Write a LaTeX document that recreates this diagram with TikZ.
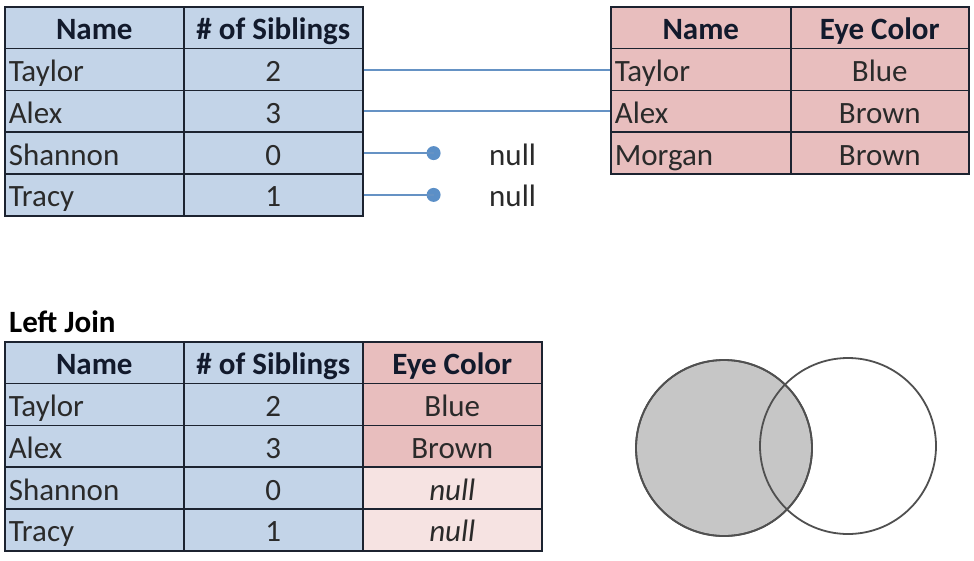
\documentclass[tikz,border=0pt]{standalone}
\usepackage{fontspec}
\setmainfont{Carlito}
\newcommand\cellfont{\fontsize{31}{36}\selectfont}
\definecolor{bluec}{HTML}{C3D4E8}
\definecolor{pinkc}{HTML}{E8BEBE}
\definecolor{paleP}{HTML}{F6E3E2}
\definecolor{bordc}{HTML}{1C2330}
\definecolor{txtc}{HTML}{2A2A2A}
\definecolor{hdrc}{HTML}{121A2C}
\definecolor{connc}{HTML}{6592C4}
\definecolor{dotc}{HTML}{5B8FC7}
\definecolor{vennfill}{HTML}{C6C6C6}
\definecolor{vennline}{HTML}{505050}
\tikzset{
  cell/.style={draw=bordc, line width=1.6pt, minimum height=41.8pt, inner sep=0pt,
    text height=24pt, text depth=0pt,
    anchor=north west, font=\cellfont, text=txtc},
  ccell/.style={cell, minimum width=#1},
  lcell/.style={cell, text width=#1, inner xsep=4pt, align=left},
  hdr/.style={font=\cellfont\bfseries, text=hdrc},
  bluecell/.style={fill=bluec},
  pinkcell/.style={fill=pinkc},
  palecell/.style={fill=paleP},
  conn/.style={draw=connc, line width=2pt},
  dotnode/.style={circle, fill=dotc, minimum size=14pt, inner sep=0pt},
  plain/.style={font=\cellfont, text=txtc, inner sep=0pt, text height=24pt, text depth=0pt},
  venn/.style={circle, draw=vennline, line width=1.8pt, minimum size=176pt, inner sep=0pt}
}
\begin{document}
\begin{tikzpicture}[x=1pt,y=-1pt]
\useasboundingbox (0,0) rectangle (974,560);
% top-left table
\node[ccell=179pt, bluecell, hdr] (a0n) at (4,6) {Name};
\node[ccell=179pt, bluecell, hdr] (a0s) at (183,6) {\# of Siblings};
\node[lcell=171pt, bluecell] (a1n) at (4,47.8) {Taylor};
\node[ccell=179pt, bluecell] (a1s) at (183,47.8) {2};
\node[lcell=171pt, bluecell] (a2n) at (4,89.6) {Alex};
\node[ccell=179pt, bluecell] (a2s) at (183,89.6) {3};
\node[lcell=171pt, bluecell] (a3n) at (4,131.4) {Shannon};
\node[ccell=179pt, bluecell] (a3s) at (183,131.4) {0};
\node[lcell=171pt, bluecell] (a4n) at (4,173.2) {Tracy};
\node[ccell=179pt, bluecell] (a4s) at (183,173.2) {1};
% top-right table
\node[ccell=180pt, pinkcell, hdr] (b0n) at (610,6) {Name};
\node[ccell=178pt, pinkcell, hdr] (b0e) at (790,6) {Eye Color};
\node[lcell=172pt, pinkcell] (b1n) at (610,47.8) {Taylor};
\node[ccell=178pt, pinkcell] (b1e) at (790,47.8) {Blue};
\node[lcell=172pt, pinkcell] (b2n) at (610,89.6) {Alex};
\node[ccell=178pt, pinkcell] (b2e) at (790,89.6) {Brown};
\node[lcell=172pt, pinkcell] (b3n) at (610,131.4) {Morgan};
\node[ccell=178pt, pinkcell] (b3e) at (790,131.4) {Brown};
% connectors
\draw[conn] (a1s.east) -- (a1s.east -| b1n.west);
\draw[conn] (a2s.east) -- (a2s.east -| b2n.west);
\node[dotnode] (d1) at ([xshift=70pt]a3s.east) {};
\node[dotnode] (d2) at ([xshift=70pt]a4s.east) {};
\draw[conn] (a3s.east) -- (d1.center);
\draw[conn] (a4s.east) -- (d2.center);
\node[plain] (n1) at ([xshift=149pt]a3s.east) {null};
\node[plain] (n2) at ([xshift=149pt]a4s.east) {null};
% left join
\node[font=\cellfont\bfseries, text=black, inner sep=0pt, anchor=west] (lj) at (9,322) {Left Join};
\node[ccell=179pt, bluecell, hdr] (c0n) at (4,341) {Name};
\node[ccell=179pt, bluecell, hdr] (c0s) at (183,341) {\# of Siblings};
\node[ccell=179pt, pinkcell, hdr] (c0e) at (362,341) {Eye Color};
\node[lcell=171pt, bluecell] (c1n) at (4,382.8) {Taylor};
\node[ccell=179pt, bluecell] (c1s) at (183,382.8) {2};
\node[ccell=179pt, pinkcell] (c1e) at (362,382.8) {Blue};
\node[lcell=171pt, bluecell] (c2n) at (4,424.6) {Alex};
\node[ccell=179pt, bluecell] (c2s) at (183,424.6) {3};
\node[ccell=179pt, pinkcell] (c2e) at (362,424.6) {Brown};
\node[lcell=171pt, bluecell] (c3n) at (4,466.4) {Shannon};
\node[ccell=179pt, bluecell] (c3s) at (183,466.4) {0};
\node[ccell=179pt, palecell] (c3e) at (362,466.4) {\itshape null};
\node[lcell=171pt, bluecell] (c4n) at (4,508.2) {Tracy};
\node[ccell=179pt, bluecell] (c4s) at (183,508.2) {1};
\node[ccell=179pt, palecell] (c4e) at (362,508.2) {\itshape null};
% venn
\node[venn, fill=vennfill] (vl) at (724,448) {};
\node[venn] (vr) at (848,446) {};
\node[venn] (vl2) at (724,448) {};
\end{tikzpicture}
\end{document}
